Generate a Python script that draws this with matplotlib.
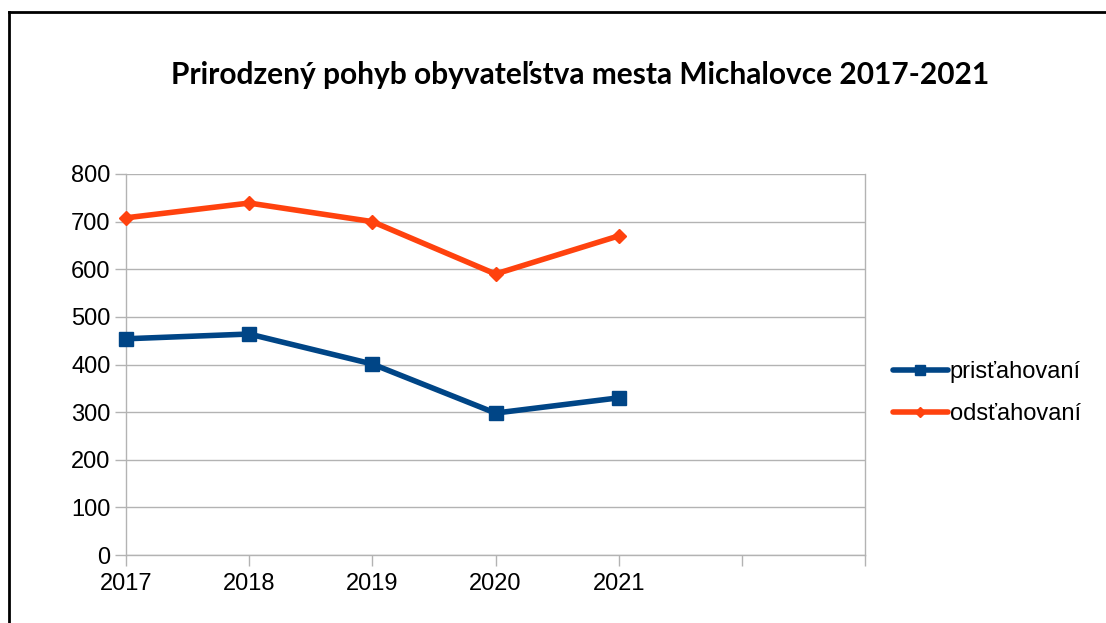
import matplotlib
matplotlib.use("Agg")
import matplotlib.pyplot as plt
from matplotlib.lines import Line2D

years = ["2017", "2018", "2019", "2020", "2021"]
axis_slots = ["2017", "2018", "2019", "2020", "2021", "", ""]
prist = [454, 464, 401, 298, 330]
odst = [708, 739, 700, 590, 670]
yticks = [0, 100, 200, 300, 400, 500, 600, 700, 800]

plt.rcParams['font.family'] = ['Liberation Sans', 'DejaVu Sans']

fig = plt.figure(figsize=(11.06, 6.23), dpi=100)
ax = fig.add_axes([126/1106, 1-555/623, (865-126)/1106, (555-174)/623])

x = list(range(len(years)))
ax.plot(x, prist, color='#004586', lw=4, marker='s', ms=10, label='prisťahovaní',
        solid_joinstyle='round', solid_capstyle='round', clip_on=False, zorder=3)
ax.plot(x, odst, color='#ff420e', lw=4, marker='D', ms=7.5, label='odsťahovaní',
        solid_joinstyle='round', solid_capstyle='round', clip_on=False, zorder=3)

ax.set_xlim(0, len(axis_slots) - 1)
ax.set_ylim(0, 800)
ax.set_yticks(yticks)
ax.set_xticks(range(len(axis_slots)))
ax.set_xticklabels(axis_slots)
ax.tick_params(axis='both', labelsize=17, color='#b3b3b3', length=8, width=1, labelcolor='#000000')
ax.tick_params(axis='x', pad=5)
ax.tick_params(axis='y', pad=3)
ax.grid(axis='y', color='#b3b3b3', lw=1)
ax.set_axisbelow(True)
for s in ['left', 'bottom', 'right']:
    ax.spines[s].set_color('#b3b3b3')
    ax.spines[s].set_linewidth(1)
ax.spines['top'].set_visible(False)

leg = fig.legend(loc='center left', bbox_to_anchor=(872/1106, 1-393/623), frameon=False,
                 fontsize=17, handlelength=2.3, handletextpad=0.1, labelspacing=0.85, markerscale=0.7)

fig.text(580/1106, 1-75/623, 'Prirodzený pohyb obyvateľstva mesta Michalovce 2017-2021',
         ha='center', va='center', fontsize=21.5, fontweight='bold', family=['Lato', 'DejaVu Sans'])

fig.add_artist(Line2D([8.5/1106, 8.5/1106], [0, 1-11.5/623], transform=fig.transFigure, color='black', lw=2))
fig.add_artist(Line2D([8.5/1106, 1], [1-11.5/623, 1-11.5/623], transform=fig.transFigure, color='black', lw=2))

fig.savefig('out.png', dpi=100)
